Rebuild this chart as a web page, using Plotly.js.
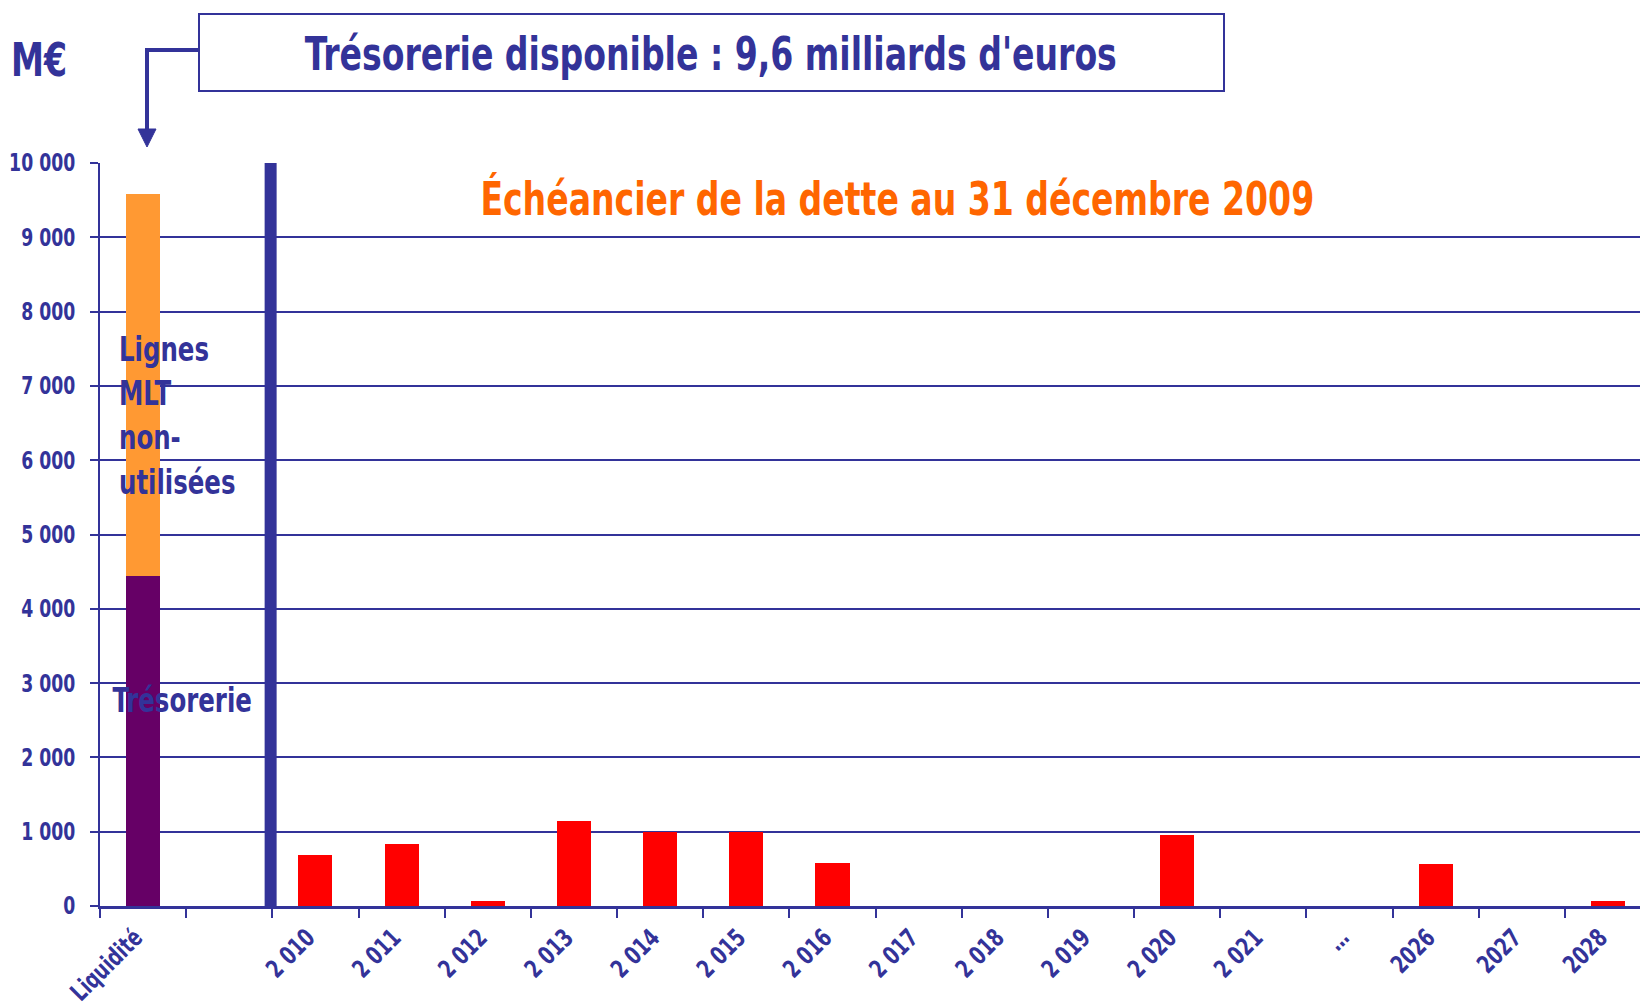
<!DOCTYPE html>
<html><head><meta charset="utf-8">
<script src="https://cdn.plot.ly/plotly-3.0.1.min.js"></script>
<style>html,body{margin:0;padding:0;background:#fff}#chart{width:1640px;height:1006px}</style>
</head><body><div id="chart"></div>
<script>
// ---- Data ----
const categories = ['Liquidité', '\u00a0', '2 010', '2 011', '2 012', '2 013', '2 014', '2 015', '2 016',
  '2 017', '2 018', '2 019', '2 020', '2 021', '…', '2026', '2027', '2028'];
const liquidityCategory = ['Liquidité'];
const tresorerie = [4440];
const lignesMLT = [5140];
const debtYears = ['2 010', '2 011', '2 012', '2 013', '2 014', '2 015', '2 016', '2 017', '2 018',
  '2 019', '2 020', '2 021', '2026', '2027', '2028'];
const debtValues = [690, 830, 70, 1150, 1000, 1000, 580, 0, 0, 0, 960, 0, 560, 0, 70];
const yTickVals = [0, 1000, 2000, 3000, 4000, 5000, 6000, 7000, 8000, 9000, 10000];
const labelLignes = ['Lignes', 'MLT', 'non-', 'utilisées'];
const labelTresorerie = 'Trésorerie';
const titleText = 'Trésorerie disponible : 9,6 milliards d\'euros';
const subtitleText = 'Échéancier de la dette au 31 décembre 2009';
const unitText = 'M€';

// ---- Style ----
const NAVY = '#333399';
const FONT = '"Liberation Sans Narrow", "Arial Narrow", "DejaVu Sans Condensed", "Liberation Sans", Arial, sans-serif';
const CONDENSE = 0.8; // horizontal squeeze to imitate a narrow face
const W = 1640, H = 1006;
const M = {l: 100, r: 0, t: 163, b: 100};
const PW = W - M.l - M.r, PH = H - M.t - M.b;
const px = x => (x - M.l) / PW;
const py = y => (H - M.b - y) / PH;
const dividerPos = 1.48; // between blank slot and 2010

const traces = [
  {type: 'bar', x: liquidityCategory, y: tresorerie, marker: {color: '#660066'}, hoverinfo: 'y'},
  {type: 'bar', x: liquidityCategory, y: lignesMLT, marker: {color: '#FF9933'}, hoverinfo: 'y'},
  {type: 'bar', x: debtYears, y: debtValues, marker: {color: '#FF0000'}, hoverinfo: 'y'}
];

const boldFont = (size, color) => ({family: FONT, size: size, color: color, weight: 'bold'});

const layout = {
  width: W, height: H,
  margin: {l: M.l, r: M.r, t: M.t, b: M.b, pad: 0},
  paper_bgcolor: '#fff', plot_bgcolor: '#fff',
  showlegend: false,
  barmode: 'stack',
  bargap: 0.605,
  separators: ', ',
  xaxis: {
    type: 'category', categoryorder: 'array', categoryarray: categories,
    range: [-0.5, 17.37],
    tickson: 'boundaries', ticks: 'outside', ticklen: 9, tickwidth: 2, tickcolor: NAVY,
    showline: true, linecolor: NAVY, linewidth: 3,
    showgrid: false, zeroline: false,
    tickangle: -45, tickfont: boldFont(25, NAVY),
    ticklabelstandoff: 4, ticklabelshift: -8,
    fixedrange: true
  },
  yaxis: {
    range: [0, 10000], tickvals: yTickVals,
    separatethousands: true, tickformat: ',d',
    ticks: 'outside', ticklen: 8, tickwidth: 2, tickcolor: NAVY,
    showline: true, linecolor: NAVY, linewidth: 2,
    showgrid: true, gridcolor: NAVY, gridwidth: 2,
    zeroline: false,
    tickfont: boldFont(24, NAVY),
    ticklabelstandoff: 10,
    fixedrange: true
  },
  shapes: [
    {type: 'line', xref: 'x', yref: 'y', x0: dividerPos, x1: dividerPos, y0: 0, y1: 10000,
      line: {color: NAVY, width: 12}},
    {type: 'rect', xref: 'paper', yref: 'paper', x0: px(199), x1: px(1224), y0: py(91), y1: py(14),
      line: {color: NAVY, width: 2}, fillcolor: 'rgba(0,0,0,0)'},
    {type: 'path', xref: 'paper', yref: 'paper',
      path: `M ${px(199)},${py(50)} L ${px(147)},${py(50)} L ${px(147)},${py(132)}`,
      line: {color: NAVY, width: 4}},
    {type: 'path', xref: 'paper', yref: 'paper',
      path: `M ${px(138)},${py(129)} L ${px(156)},${py(129)} L ${px(147)},${py(147)} Z`,
      line: {color: NAVY, width: 1}, fillcolor: NAVY}
  ],
  annotations: [
    {xref: 'paper', yref: 'paper', x: px(711), y: py(54), xanchor: 'center', yanchor: 'middle',
      text: titleText, showarrow: false, font: boldFont(46, NAVY)},
    {xref: 'paper', yref: 'paper', x: px(897), y: py(199), xanchor: 'center', yanchor: 'middle',
      text: subtitleText, showarrow: false, font: boldFont(46, '#FF6600')},
    {xref: 'paper', yref: 'paper', x: px(39), y: py(60), xanchor: 'center', yanchor: 'middle',
      text: unitText, showarrow: false, font: boldFont(46, NAVY)},
    {xref: 'paper', yref: 'paper', x: px(117), y: py(415), xanchor: 'left', yanchor: 'middle', align: 'left',
      text: labelLignes.join('<br>'), showarrow: false, font: boldFont(34, NAVY)},
    {xref: 'paper', yref: 'paper', x: px(182), y: py(700), xanchor: 'center', yanchor: 'middle',
      text: labelTresorerie, showarrow: false, font: boldFont(34, NAVY)}
  ]
};

// Squeeze text horizontally around its anchor point (keeps it real text)
function condense(gd, s) {
  gd.querySelectorAll('.annotation-text, .xtick text, .ytick text').forEach(t => {
    const bb = t.getBBox();
    const anchor = t.getAttribute('text-anchor') || getComputedStyle(t).textAnchor || 'start';
    const ax = anchor === 'middle' ? bb.x + bb.width / 2 : (anchor === 'end' ? bb.x + bb.width : bb.x);
    const ay = bb.y + bb.height / 2;
    const tr = t.getAttribute('transform') || '';
    t.setAttribute('transform', `${tr} translate(${ax},${ay}) scale(${s},1) translate(${-ax},${-ay})`);
  });
}

Plotly.newPlot('chart', traces, layout, {displayModeBar: false, staticPlot: true})
  .then(gd => condense(gd, CONDENSE));
</script>
</body></html>
